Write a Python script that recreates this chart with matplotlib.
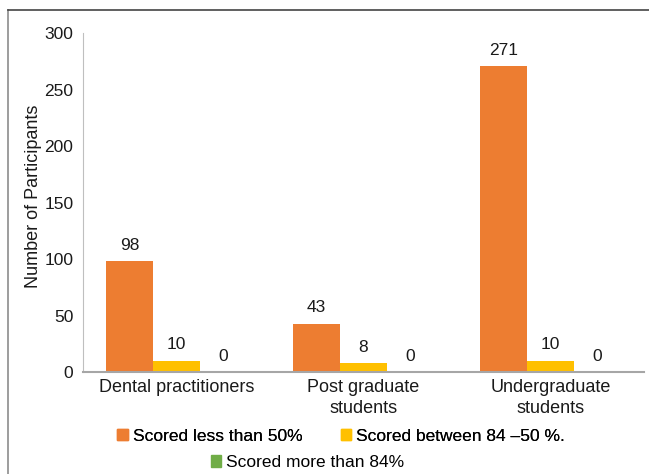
import matplotlib
matplotlib.use("Agg")
import matplotlib.pyplot as plt
import numpy as np
from matplotlib.lines import Line2D
from matplotlib.patches import Patch

plt.rcParams["font.family"] = ["Liberation Sans", "DejaVu Sans"]

# ===== data
categories = ["Dental practitioners", "Post graduate\nstudents", "Undergraduate\nstudents"]
series_names = ["Scored less than 50%", "Scored between 84 \u201350 %.", "Scored more than 84%"]
less_50 = [98, 43, 271]
between_50_84 = [10, 8, 10]
more_84 = [0, 0, 0]
colors = ["#ED7D31", "#FFC000", "#70AD47"]


def main():
    fig = plt.figure(figsize=(6.49, 4.74), dpi=100)
    ax = fig.add_axes([0.128, 0.215, 0.864, 0.715])

    x = np.arange(len(categories)) + 0.5
    width = 0.25
    for i, (vals, name) in enumerate(zip([less_50, between_50_84, more_84], series_names)):
        bars = ax.bar(x + (i - 1) * width, vals, width, color=colors[i], label=name)
        ax.bar_label(bars, padding=6, fontsize=12.5, color="#1a1a1a")

    ax.set_xlim(0, 3)
    ax.set_ylim(0, 300)
    ax.set_yticks(range(0, 301, 50))
    ax.set_xticks(x)
    ax.set_xticklabels(categories, fontsize=13, color="#1a1a1a", linespacing=1.3)
    ax.tick_params(axis="y", length=0, labelsize=12.5, labelcolor="#1a1a1a", pad=7)
    ax.tick_params(axis="x", length=0, pad=5)
    ax.set_ylabel("Number of Participants", fontsize=13, color="#1a1a1a")
    ax.yaxis.set_label_coords(-0.074, 0.52)

    for side in ["top", "right"]:
        ax.spines[side].set_visible(False)
    ax.spines["left"].set_color("#BFBFBF")
    ax.spines["bottom"].set_color("#A6A6A6")
    ax.spines["bottom"].set_linewidth(1.5)

    # 凡例: 2行に分けて中央寄せ
    handles = [Patch(color=c) for c in colors]
    leg_kw = dict(frameon=False, fontsize=12.5, handlelength=0.6, handleheight=0.6,
                  handletextpad=0.3, columnspacing=2.2, borderaxespad=0)
    leg1 = fig.legend(handles[:2], series_names[:2], ncol=2, loc="center",
                      bbox_to_anchor=(0.526, 0.080), **leg_kw)
    fig.add_artist(leg1)
    fig.legend(handles[2:], series_names[2:], loc="center",
               bbox_to_anchor=(0.474, 0.024), **leg_kw)

    # 外枠
    fig.add_artist(Line2D([8 / 649, 8 / 649], [0, 1 - 10 / 474], transform=fig.transFigure,
                          color="#8C8C8C", lw=1.2))
    fig.add_artist(Line2D([8 / 649, 1], [1 - 10 / 474, 1 - 10 / 474], transform=fig.transFigure,
                          color="#444444", lw=1.2))

    fig.savefig("out.png", dpi=100)


if __name__ == "__main__":
    main()
